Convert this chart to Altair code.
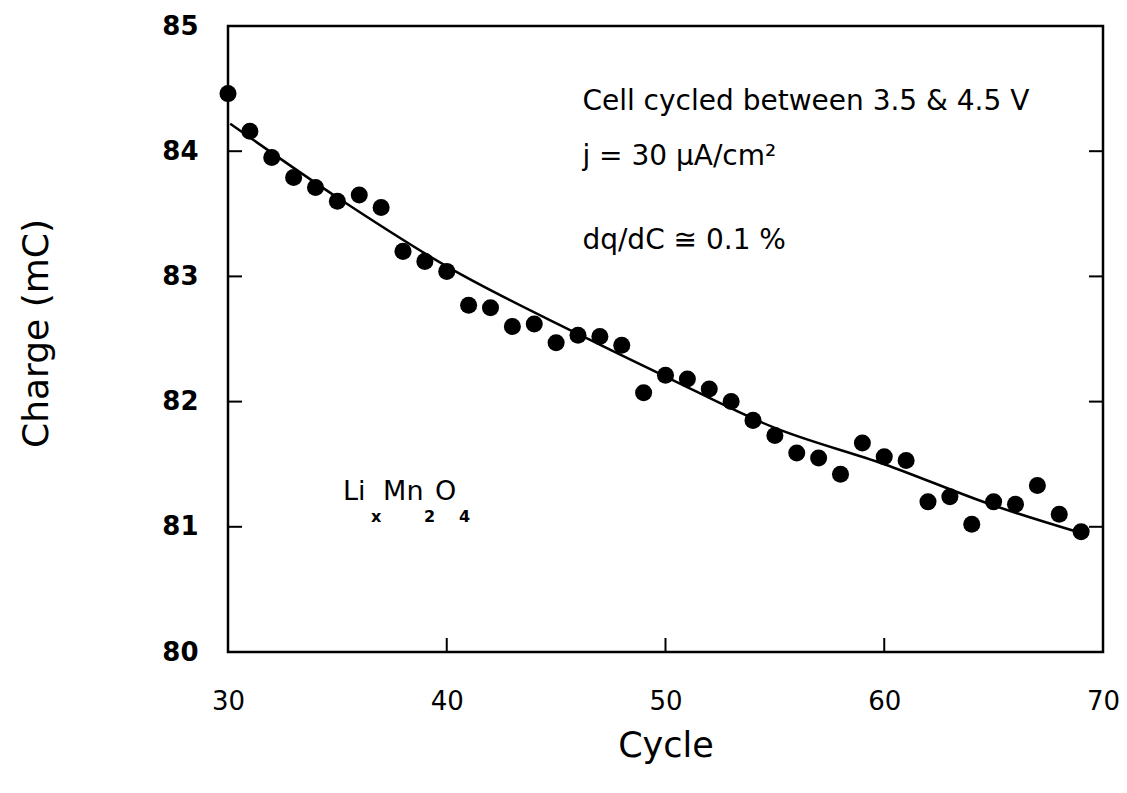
import altair as alt
import pandas as pd

# Measured data points (cycle, charge in mC)
cycles = list(range(30, 70))
charge = [84.46, 84.16, 83.95, 83.79, 83.71, 83.60, 83.65, 83.55, 83.20, 83.12,
          83.04, 82.77, 82.75, 82.60, 82.62, 82.47, 82.53, 82.52, 82.45, 82.07,
          82.21, 82.18, 82.10, 82.00, 81.85, 81.73, 81.59, 81.55, 81.42, 81.67,
          81.56, 81.53, 81.20, 81.24, 81.02, 81.20, 81.18, 81.33, 81.10, 80.96]

# Fitted curve, read at a few cycles
fit_cycle = [30.1, 35, 40, 46, 50, 55, 60, 65, 69]
fit_charge = [84.22, 83.63, 83.08, 82.54, 82.20, 81.79, 81.50, 81.17, 80.95]

# Axis ticks
x_ticks = [30, 40, 50, 60, 70]
y_ticks = [80, 81, 82, 83, 84, 85]
x_inner = [40, 50, 60]
y_inner = [81, 82, 83, 84]

# Annotations
ann_text = ["Cell cycled between 3.5 & 4.5 V", "j = 30 μA/cm²", "dq/dC ≅ 0.1 %"]
ann_x = [46.2, 46.2, 46.2]
ann_y = [84.39, 83.95, 83.28]

# Formula Li_x Mn_2 O_4 : main pieces and subscripts
formula_main = ["Li", "Mn", "O"]
formula_main_x = [35.26, 37.09, 39.46]
formula_main_y = [81.28, 81.28, 81.28]
formula_sub = ["x", "2", "4"]
formula_sub_x = [36.54, 38.96, 40.56]
formula_sub_y = [81.08, 81.08, 81.08]

FONT = "DejaVu Sans"

pts = pd.DataFrame({"Cycle": cycles, "Charge": charge})
fit = pd.DataFrame({"Cycle": fit_cycle, "Charge": fit_charge})
ann = pd.DataFrame({"t": ann_text, "x": ann_x, "y": ann_y})
fmain = pd.DataFrame({"t": formula_main, "x": formula_main_x, "y": formula_main_y})
fsub = pd.DataFrame({"t": formula_sub, "x": formula_sub_x, "y": formula_sub_y})
xt = pd.DataFrame({"v": x_inner})
yt = pd.DataFrame({"v": y_inner})

xs = alt.Scale(domain=[30, 70], nice=False, zero=False)
ys = alt.Scale(domain=[80, 85], nice=False, zero=False)

x_axis = alt.Axis(values=x_ticks, ticks=False, grid=False, domain=False, format="d",
                  labelFontSize=26, labelFont=FONT, labelColor="black",
                  labelFontWeight="normal",
                  labelPadding=36, title="Cycle", titleFontSize=35,
                  titleFont=FONT, titleFontWeight="normal", titleColor="black",
                  titlePadding=14, labelFlush=False)
y_axis = alt.Axis(values=y_ticks, ticks=False, grid=False, domain=False, format="d",
                  labelFontSize=26, labelFont=FONT, labelColor="black",
                  labelFontWeight="bold",
                  labelPadding=30, title="Charge (mC)", titleFontSize=36,
                  titleFont=FONT, titleFontWeight="normal", titleColor="black",
                  titlePadding=106, titleY=307, labelFlush=False)

points = alt.Chart(pts).mark_point(filled=True, color="black", size=290, opacity=1).encode(
    x=alt.X("Cycle:Q", scale=xs, axis=x_axis),
    y=alt.Y("Charge:Q", scale=ys, axis=y_axis),
)

line = alt.Chart(fit).mark_line(color="black", strokeWidth=2.5, interpolate="monotone").encode(
    x=alt.X("Cycle:Q", scale=xs),
    y=alt.Y("Charge:Q", scale=ys),
)

left_ticks = alt.Chart(yt).mark_rule(color="black", strokeWidth=2).encode(
    y=alt.Y("v:Q", scale=ys), x=alt.value(0), x2=alt.value(14))
right_ticks = alt.Chart(yt).mark_rule(color="black", strokeWidth=2).encode(
    y=alt.Y("v:Q", scale=ys), x=alt.value(861), x2=alt.value(875))
bottom_ticks = alt.Chart(xt).mark_rule(color="black", strokeWidth=2).encode(
    x=alt.X("v:Q", scale=xs), y=alt.value(626), y2=alt.value(612))

ann_marks = alt.Chart(ann).mark_text(align="left", baseline="middle", fontSize=28,
                                     font=FONT, color="black").encode(
    x=alt.X("x:Q", scale=xs), y=alt.Y("y:Q", scale=ys), text="t:N")
fmain_marks = alt.Chart(fmain).mark_text(align="left", baseline="middle", fontSize=27,
                                         font=FONT, color="black").encode(
    x=alt.X("x:Q", scale=xs), y=alt.Y("y:Q", scale=ys), text="t:N")
fsub_marks = alt.Chart(fsub).mark_text(align="left", baseline="middle", fontSize=16,
                                       font=FONT, fontWeight="bold", color="black").encode(
    x=alt.X("x:Q", scale=xs), y=alt.Y("y:Q", scale=ys), text="t:N")

chart = alt.layer(line, points, left_ticks, right_ticks, bottom_ticks,
                  ann_marks, fmain_marks, fsub_marks).properties(
    width=875, height=626,
    autosize=alt.AutoSizeParams(type="none"),
    padding={"left": 220, "top": 18, "right": 16, "bottom": 130},
    background="white",
).configure_view(stroke="black", strokeWidth=2.5)

chart.save("out.html", embed_options={"renderer": "svg", "actions": False})
